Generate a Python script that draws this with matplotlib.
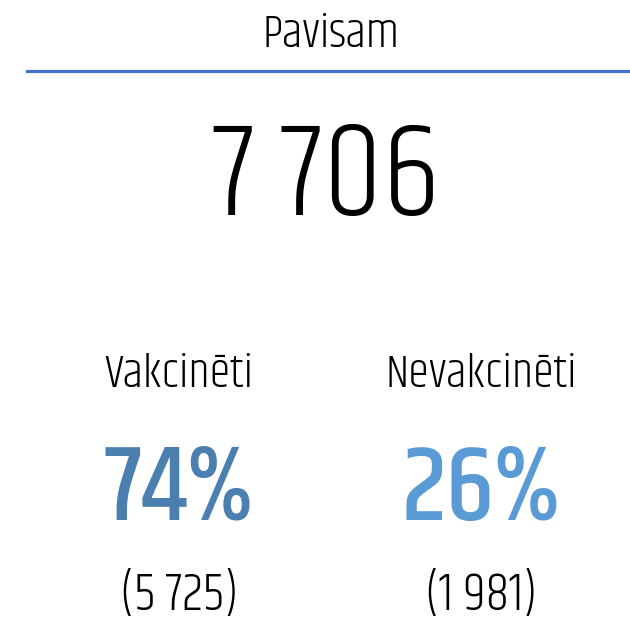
import matplotlib
matplotlib.use("Agg")
import matplotlib.pyplot as plt

# card values
title = "Pavisam"
total = "7 706"
groups = ["Vakcinēti", "Nevakcinēti"]
shares = ["74%", "26%"]
counts = ["(5 725)", "(1 981)"]
share_colors = ["#4a7fb0", "#5b9bd5"]

FONT = ["Khand", "DejaVu Sans"]

fig = plt.figure(figsize=(6.3, 6.23), dpi=100)
W, H = 630, 623

def put(x, y, s, size, color="black", weight=300):
    # x, y in pixel coords from top-left; y is the baseline
    fig.text(x / W, 1 - y / H, s, ha="center", va="baseline", fontsize=size,
             color=color, family=FONT, fontweight=weight)

put(331, 47, title, 34)
fig.add_artist(plt.Line2D([27 / W, 1], [1 - 70.5 / H] * 2, color="#4472c4", lw=2.3))
put(326, 215, total, 97)

cols = [179, 481]
for x, g, sh, c, col in zip(cols, groups, shares, counts, share_colors):
    put(x, 387, g, 34)
    put(x, 520, sh, 78, color=col, weight=500)
    put(x, 610, c, 38)

fig.savefig("out.png")
